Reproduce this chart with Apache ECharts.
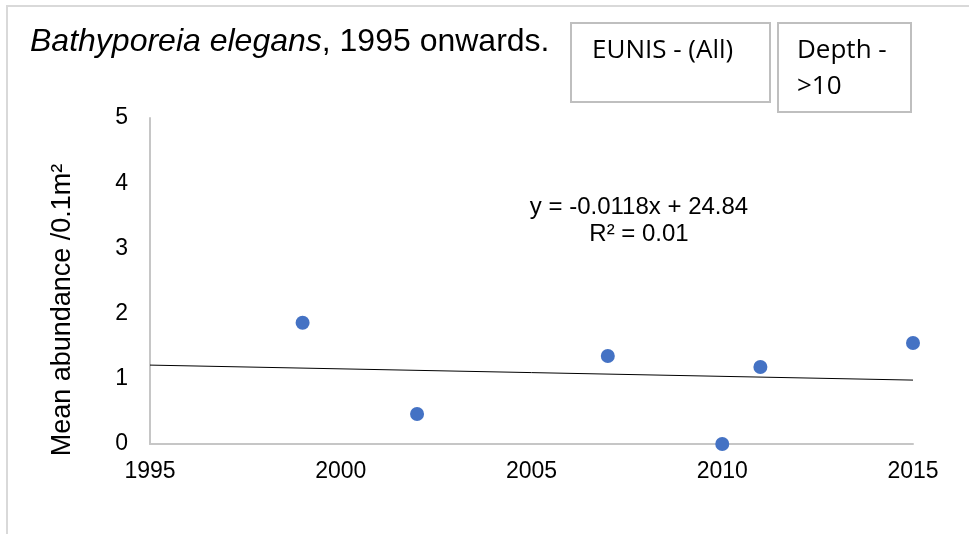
<!DOCTYPE html>
<html>
<head>
<meta charset="utf-8">
<script src="https://cdn.jsdelivr.net/npm/echarts@6/dist/echarts.min.js"></script>
<style>
  html, body { margin: 0; padding: 0; background: #fff; }
  #chart { width: 969px; height: 534px; }
</style>
</head>
<body>
<div id="chart"></div>
<script>
// survey years and mean abundance per 0.1m2
var years = [1999, 2002, 2007, 2010, 2011, 2015];
var abundance = [1.86, 0.46, 1.35, 0, 1.18, 1.55];
// linear trend line ends
var trendYears = [1995, 2015];
var trendValues = [1.21, 0.98];
var xTicks = { min: 1995, max: 2015, step: 5 };
var yTicks = { min: 0, max: 5, step: 1 };

var font = '"Liberation Sans", Arial, sans-serif';
var boxFont = '"Open Sans", "Noto Sans", sans-serif';

var points = [];
for (var i = 0; i < years.length; i++) {
    points.push([years[i], abundance[i]]);
}
var trend = [];
for (var j = 0; j < trendYears.length; j++) {
    trend.push([trendYears[j], trendValues[j]]);
}

var chart = echarts.init(document.getElementById('chart'), null, { renderer: 'canvas' });

var option = {
    animation: false,
    grid: { left: 150, right: 56, top: 118, bottom: 90 },
    xAxis: {
        type: 'value',
        min: xTicks.min,
        max: xTicks.max,
        interval: xTicks.step,
        axisLine: { show: true, lineStyle: { color: '#c6c6c6', width: 2 } },
        axisTick: { show: false },
        splitLine: { show: false },
        axisLabel: {
            color: '#000', fontSize: 23, fontFamily: font, margin: 16,
            formatter: function (v) { return String(v); }
        }
    },
    yAxis: {
        type: 'value',
        min: yTicks.min,
        max: yTicks.max,
        interval: yTicks.step,
        axisLine: { show: true, lineStyle: { color: '#c6c6c6', width: 2 } },
        axisTick: { show: false },
        splitLine: { show: false },
        axisLabel: { color: '#000', fontSize: 23, fontFamily: font, margin: 22 }
    },
    series: [
        {
            name: 'trend',
            type: 'line',
            data: trend,
            showSymbol: false,
            lineStyle: { color: '#000', width: 1 },
            z: 2
        },
        {
            name: 'abundance',
            type: 'scatter',
            data: points,
            symbolSize: 14,
            itemStyle: { color: '#4472C4', opacity: 1 },
            z: 3
        }
    ],
    graphic: [
        // outer frame
        { type: 'rect', shape: { x: 7, y: 6, width: 1000, height: 600 },
          style: { fill: 'none', stroke: '#d9d9d9', lineWidth: 2 } },
        // title
        { type: 'text', x: 30, y: 42,
          style: { text: '{i|Bathyporeia elegans}{n|, 1995 onwards.}',
                   verticalAlign: 'middle', align: 'left',
                   rich: {
                       i: { fontFamily: font, fontSize: 32, fontStyle: 'italic', fill: '#000' },
                       n: { fontFamily: font, fontSize: 32, fill: '#000' }
                   } } },
        // filter boxes
        { type: 'rect', shape: { x: 571, y: 23, width: 199, height: 79 },
          style: { fill: 'none', stroke: '#bfbfbf', lineWidth: 2 } },
        { type: 'text', x: 592, y: 51,
          style: { text: 'EUNIS - (All)', font: '26px ' + boxFont, fill: '#000', verticalAlign: 'middle' } },
        { type: 'rect', shape: { x: 778, y: 23, width: 133, height: 89 },
          style: { fill: 'none', stroke: '#bfbfbf', lineWidth: 2 } },
        { type: 'text', x: 797, y: 51,
          style: { text: 'Depth -', font: '26px ' + boxFont, fill: '#000', verticalAlign: 'middle' } },
        { type: 'text', x: 797, y: 87,
          style: { text: '>10', font: '26px ' + boxFont, fill: '#000', verticalAlign: 'middle' } },
        // trend equation
        { type: 'text', x: 639, y: 207,
          style: { text: 'y = -0.0118x + 24.84', font: '24px ' + font, fill: '#000',
                   align: 'center', verticalAlign: 'middle' } },
        { type: 'text', x: 639, y: 234,
          style: { text: 'R² = 0.01', font: '24px ' + font, fill: '#000',
                   align: 'center', verticalAlign: 'middle' } },
        // y axis name
        { type: 'text', x: 63, y: 310, rotation: Math.PI / 2,
          style: { text: 'Mean abundance /0.1m²', font: '27px ' + font, fill: '#000',
                   align: 'center', verticalAlign: 'middle' } }
    ]
};

chart.setOption(option);
</script>
</body>
</html>
